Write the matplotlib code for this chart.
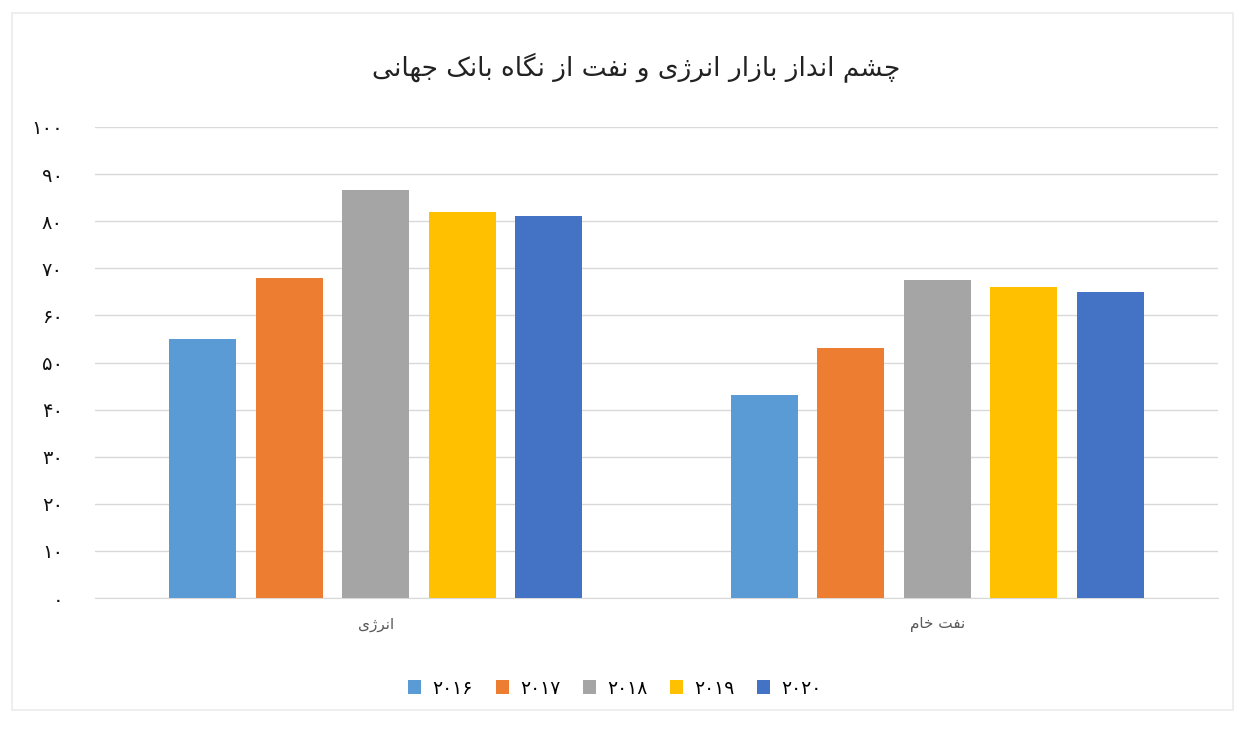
import matplotlib.pyplot as plt
from matplotlib.patches import Rectangle
import numpy as np

# Chart data
title = "چشم انداز بازار انرژی و نفت از نگاه بانک جهانی"
categories = ["انرژی", "نفت خام"]
years = ["2016", "2017", "2018", "2019", "2020"]
energy = [55, 68, 86.7, 82, 81]
crude_oil = [43, 53, 67.6, 66, 65]
y_ticks = [0, 10, 20, 30, 40, 50, 60, 70, 80, 90, 100]

colors = ["#5B9BD5", "#ED7D31", "#A5A5A5", "#FFC000", "#4472C4"]

#-------------------------------------------------------------------------------

# (isolated, final, initial, medial) presentation forms
FORMS = {
  "ا": ("\ufe8d", "\ufe8e", None, None),
  "ب": ("\ufe8f", "\ufe90", "\ufe91", "\ufe92"),
  "ت": ("\ufe95", "\ufe96", "\ufe97", "\ufe98"),
  "ج": ("\ufe9d", "\ufe9e", "\ufe9f", "\ufea0"),
  "خ": ("\ufea5", "\ufea6", "\ufea7", "\ufea8"),
  "د": ("\ufea9", "\ufeaa", None, None),
  "ر": ("\ufead", "\ufeae", None, None),
  "ز": ("\ufeaf", "\ufeb0", None, None),
  "ش": ("\ufeb5", "\ufeb6", "\ufeb7", "\ufeb8"),
  "ف": ("\ufed1", "\ufed2", "\ufed3", "\ufed4"),
  "م": ("\ufee1", "\ufee2", "\ufee3", "\ufee4"),
  "ن": ("\ufee5", "\ufee6", "\ufee7", "\ufee8"),
  "ه": ("\ufee9", "\ufeea", "\ufeeb", "\ufeec"),
  "و": ("\ufeed", "\ufeee", None, None),
  "چ": ("\ufb7a", "\ufb7b", "\ufb7c", "\ufb7d"),
  "ژ": ("\ufb8a", "\ufb8b", None, None),
  "ک": ("\ufb8e", "\ufb8f", "\ufb90", "\ufb91"),
  "گ": ("\ufb92", "\ufb93", "\ufb94", "\ufb95"),
  "ی": ("\ufbfc", "\ufbfd", "\ufbfe", "\ufbff"),
}

def shape(text):
  """ Join Persian letters and put them in visual (left to right) order.
  """
  out = []
  for i, ch in enumerate(text):
    if ch not in FORMS:
      out.append(ch)
      continue
    prev = text[i-1] if i > 0 else ""
    nxt = text[i+1] if i + 1 < len(text) else ""
    join_prev = prev in FORMS and FORMS[prev][2] is not None
    join_next = nxt in FORMS and FORMS[ch][2] is not None
    iso, fin, ini, med = FORMS[ch]
    if join_prev and join_next:
      out.append(med)
    elif join_prev:
      out.append(fin)
    elif join_next:
      out.append(ini)
    else:
      out.append(iso)
  return "".join(out)[::-1]

PERSIAN_DIGITS = str.maketrans("0123456789", "۰۱۲۳۴۵۶۷۸۹")

def fa_num(s):
  return str(s).translate(PERSIAN_DIGITS)

#-------------------------------------------------------------------------------

plt.rcParams['font.family'] = ['DejaVu Sans']

fig = plt.figure(figsize=(12.44, 7.30), dpi=100)
fig.patches.append(Rectangle((12/1244, 1 - 710/730), 1221/1244, 697/730,
                             transform=fig.transFigure, fill=False,
                             edgecolor="#EBEBEB", lw=1.2))

ax = fig.add_axes([95/1244, 1 - 598/730, 1123/1244, 471/730])

values = np.array([energy, crude_oil])
x = np.arange(len(categories))
width = 0.12
step = 0.154
for i, year in enumerate(years):
  offset = (i - 2) * step
  ax.bar(x + offset, values[:, i], width, color=colors[i], label=fa_num(year), zorder=3)

ax.set_xlim(-0.5, 1.5)
ax.set_ylim(0, 100)
ax.set_yticks(y_ticks)
ax.set_yticklabels([fa_num(t) for t in y_ticks], fontsize=14, color="#111111")
ax.set_xticks(x)
ax.set_xticklabels([shape(c) for c in categories], fontsize=11, color="#595959")
ax.tick_params(axis='y', length=0, pad=23)
ax.tick_params(axis='x', length=0, pad=14)
ax.grid(axis='y', color="#D9D9D9", lw=1, zorder=0)
for side in ["top", "right", "left"]:
  ax.spines[side].set_visible(False)
ax.spines["bottom"].set_color("#D9D9D9")

fig.text(0.511, 1 - 67/730, shape(title), ha="center", va="center", fontsize=19, color="#222222")

fig.legend(loc="center", bbox_to_anchor=(615/1244, 1 - 688/730), ncol=5, frameon=False,
           fontsize=13.5, handlelength=0.7, handleheight=0.7, handletextpad=0.6,
           columnspacing=1.2)

fig.savefig("out.png", dpi=100)
